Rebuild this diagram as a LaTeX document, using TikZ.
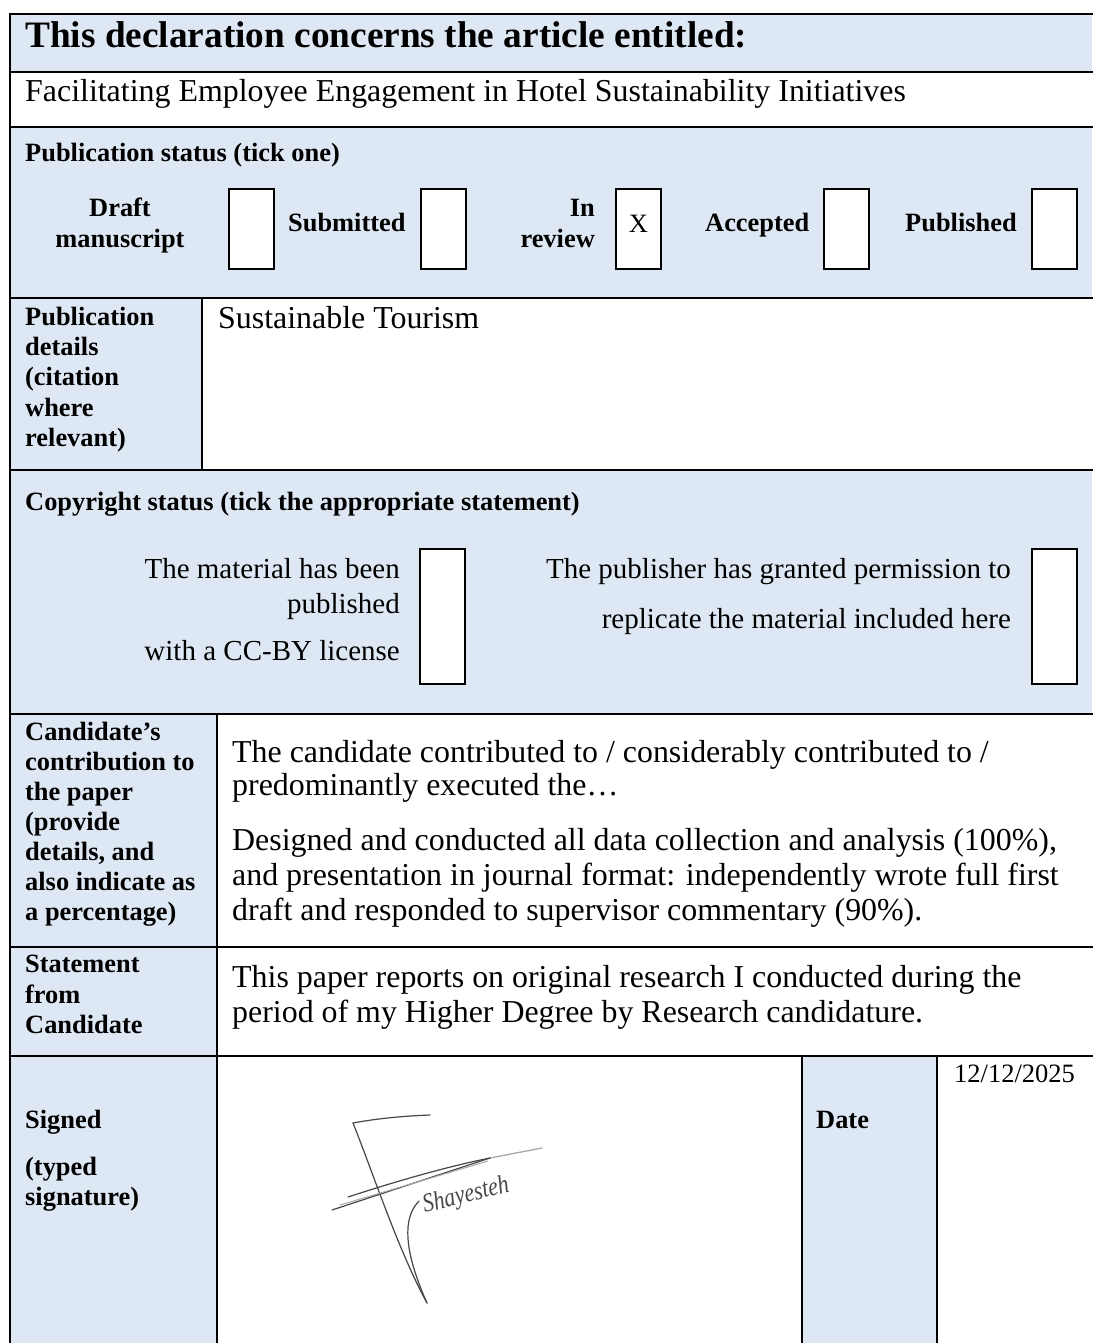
\documentclass[tikz,border=0pt]{standalone}
\usepackage{fontspec}
\setmainfont{Liberation Serif}
\definecolor{cellblue}{HTML}{DEE8F4}
\definecolor{inkgray}{HTML}{474747}
\definecolor{inklight}{HTML}{A8A8A8}
% font sizes used in the form
\newcommand\fTitle{\fontsize{37.3}{44}\selectfont\bfseries}
\newcommand\fBig{\fontsize{31.9}{38}\selectfont}
\newcommand\fLab{\fontsize{26.4}{30}\selectfont\bfseries}
\newcommand\fMid{\fontsize{29}{34}\selectfont}
\newcommand\fDate{\fontsize{26.5}{30}\selectfont}
\begin{document}
\begin{tikzpicture}[x=1pt,y=-1pt,
  rule/.style={line width=2.6pt},
  thinrule/.style={line width=1.1pt},
  tickbox/.style={draw, line width=2pt, fill=white, inner sep=0pt,
                  minimum width=45pt, minimum height=80pt},
  tallbox/.style={tickbox, minimum height=135pt},
  txt/.style={inner sep=0pt, anchor=base west},
  txtr/.style={inner sep=0pt, anchor=base east},
  txtc/.style={inner sep=0pt, anchor=base},
  ink/.style={draw=inkgray, line width=1.2pt, line cap=round, line join=round},
  inkfaint/.style={draw=inklight, line width=1.3pt, line cap=round},
]
\useasboundingbox (0,0) rectangle (1092,1343);
\fill[white] (0,0) rectangle (1092,1343);

% shaded cells
\fill[cellblue] (10,14) rectangle (1092,72);
\fill[cellblue] (10,127) rectangle (1092,298);
\fill[cellblue] (10,298) rectangle (202,470);
\fill[cellblue] (10,470) rectangle (1092,714);
\fill[cellblue] (10,714) rectangle (217,1343);
\fill[cellblue] (802,1056) rectangle (937,1343);

% table rules
\draw[rule] (10,1345) -- (10,14) -- (1094,14);
\draw[rule] (10,72) -- (1094,72);
\draw[rule] (10,127) -- (1094,127);
\draw[rule] (10,298) -- (1094,298);
\draw[rule] (10,470) -- (1094,470);
\draw[rule] (10,714) -- (1094,714);
\draw[rule] (10,947) -- (1094,947);
\draw[rule] (10,1056) -- (231,1056);
\draw[thinrule] (231,1056) -- (629,1056);
\draw[rule] (629,1056) -- (1094,1056);
\draw[rule] (202,298) -- (202,470);
\draw[rule] (217,714) -- (217,1345);
\draw[rule] (802,1056) -- (802,1345);
\draw[rule] (937,1056) -- (937,1345);

% heading and article title
\node[txt, font=\fTitle] (title) at (25,48) {This declaration concerns the article entitled:};
\node[txt, font=\fBig] (article) at (25,102) {Facilitating Employee Engagement in Hotel Sustainability Initiatives};

% publication status
\node[txt, font=\fLab] (pubstat) at (25,162) {Publication status (tick one)};
\node[txtc, font=\fLab] (draft1) at (120,216) {Draft};
\node[txtc, font=\fLab] (draft2) at (120,247) {manuscript};
\node[tickbox] (boxdraft) at (251.5,229) {};
\node[txt, font=\fLab] (submitted) at (288,231) {Submitted};
\node[tickbox] (boxsub) at (443.5,229) {};
\node[txtr, font=\fLab] (inrev1) at (595,216) {In};
\node[txtr, font=\fLab] (inrev2) at (595,247) {review};
\node[tickbox] (boxrev) at (638.5,229) {};
\node[txtc, font=\fDate] (mark) at (638.5,232) {X};
\node[txt, font=\fLab] (accepted) at (705,231) {Accepted};
\node[tickbox] (boxacc) at (846,229) {};
\node[txt, font=\fLab] (published) at (905,231) {Published};
\node[tickbox] (boxpub) at (1054,229) {};

% publication details
\node[txt, font=\fLab] (pd1) at (25,325) {Publication};
\node[txt, font=\fLab] (pd2) at (25,355) {details};
\node[txt, font=\fLab] (pd3) at (25,385) {(citation};
\node[txt, font=\fLab] (pd4) at (25,416) {where};
\node[txt, font=\fLab] (pd5) at (25,446) {relevant)};
\node[txt, font=\fBig] (journal) at (218,328) {Sustainable Tourism};

% copyright status
\node[txt, font=\fLab] (copy) at (25,510) {Copyright status (tick the appropriate statement)};
\node[txtr, font=\fMid] (ccby1) at (400,578) {The material has been};
\node[txtr, font=\fMid] (ccby2) at (400,613) {published};
\node[txtr, font=\fMid] (ccby3) at (400,660) {with a CC-BY license};
\node[tallbox] (boxccby) at (442.5,616.5) {};
\node[txtr, font=\fMid] (perm1) at (1011,578) {The publisher has granted permission to};
\node[txtr, font=\fMid] (perm2) at (1011,628) {replicate the material included here};
\node[tallbox] (boxperm) at (1054,616) {};

% candidate's contribution
\node[txt, font=\fLab] (cc1) at (25,740) {Candidate’s};
\node[txt, font=\fLab] (cc2) at (25,770) {contribution to};
\node[txt, font=\fLab] (cc3) at (25,800) {the paper};
\node[txt, font=\fLab] (cc4) at (25,830) {(provide};
\node[txt, font=\fLab] (cc5) at (25,860) {details, and};
\node[txt, font=\fLab] (cc6) at (25,890) {also indicate as};
\node[txt, font=\fLab] (cc7) at (25,920) {a percentage)};
\node[txt, font=\fBig] (ct1) at (232,762) {The candidate contributed to / considerably contributed to /};
\node[txt, font=\fBig] (ct2) at (232,795) {predominantly executed the…};
\node[txt, font=\fBig] (ct3) at (232,850) {Designed and conducted all data collection and analysis (100\%),};
\node[txt, font=\fBig] (ct4) at (232,885) {and presentation in journal format: independently wrote full first};
\node[txt, font=\fBig] (ct5) at (232,920) {draft and responded to supervisor commentary (90\%).};

% statement
\node[txt, font=\fLab] (st1) at (25,972) {Statement};
\node[txt, font=\fLab] (st2) at (25,1003) {from};
\node[txt, font=\fLab] (st3) at (25,1033) {Candidate};
\node[txt, font=\fBig] (stt1) at (232,987) {This paper reports on original research I conducted during the};
\node[txt, font=\fBig] (stt2) at (232,1022) {period of my Higher Degree by Research candidature.};

% signature and date
\node[txt, font=\fLab] (sg1) at (25,1128) {Signed};
\node[txt, font=\fLab] (sg2) at (25,1175) {(typed};
\node[txt, font=\fLab] (sg3) at (25,1205) {signature)};
\node[txt, font=\fLab] (datelab) at (816,1128) {Date};
\node[txt, font=\fDate] (dateval) at (954,1082) {12/12/2025};

% handwritten signature
\draw[inkfaint] (490,1158) -- (542,1148);
\draw[ink] (353,1123) .. controls (380,1118) and (405,1116) .. (430,1115);
\draw[ink] (353,1123) .. controls (372,1170) and (398,1250) .. (427,1303);
\draw[ink] (427,1303) .. controls (410,1265) and (398,1222) .. (419,1201);
\draw[ink] (332,1210) -- (490,1158);
\draw[ink] (348,1197) .. controls (400,1180) and (450,1166) .. (490,1158);
\draw[inkfaint, line width=1pt] (340,1205) -- (488,1161);
\node[inner sep=0pt, text=inkgray, rotate=14, yscale=1.2,
      font=\fontsize{22}{24}\selectfont\itshape] (sigtext) at (466,1196) {Shayesteh};
\end{tikzpicture}
\end{document}
